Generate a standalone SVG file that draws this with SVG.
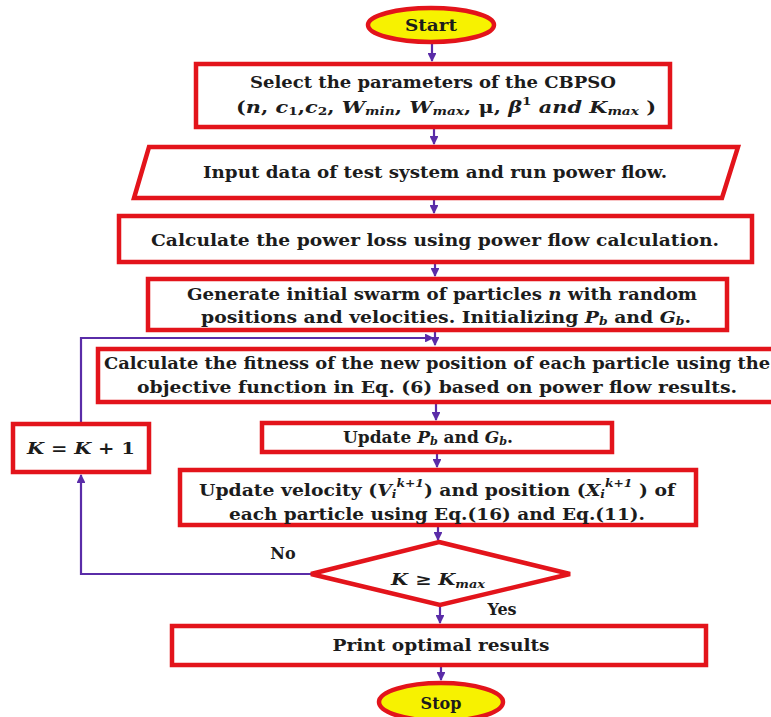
<svg xmlns="http://www.w3.org/2000/svg" width="771" height="717" viewBox="0 0 771 717">
<defs>
<marker id="ah" viewBox="0 0 10 10" refX="9" refY="5" markerWidth="4" markerHeight="4" orient="auto-start-reverse">
<path d="M0,0 L10,5 L0,10 z" fill="#5a2ca8"/>
</marker>
</defs>
<style>
.box{fill:#fff;stroke:#e3141b;stroke-width:4.5}
.term{fill:#f7f200;stroke:#e3141b;stroke-width:4.5}
.t{font-family:"DejaVu Serif","Liberation Serif",serif;font-weight:bold;font-size:16px;fill:#1c1c1c;text-anchor:middle;dominant-baseline:central}
.m{font-style:italic}
.sub{font-size:10.5px}
.c{fill:none;stroke:#5a2ca8;stroke-width:2.2;marker-end:url(#ah)}
</style>
<rect width="771" height="717" fill="#fff"/>
<g id="connectors">
<line class="c" x1="432" y1="44" x2="432" y2="61"/>
<line class="c" x1="434" y1="128" x2="434" y2="144"/>
<line class="c" x1="434" y1="199" x2="434" y2="213"/>
<line class="c" x1="435" y1="263" x2="435" y2="276"/>
<line class="c" x1="435" y1="331" x2="435" y2="345"/>
<line class="c" x1="436" y1="404" x2="436" y2="420"/>
<line class="c" x1="437" y1="453" x2="437" y2="467"/>
<line class="c" x1="438" y1="527" x2="438" y2="540"/>
<line class="c" x1="440" y1="606" x2="440" y2="623"/>
<line class="c" x1="441" y1="666" x2="441" y2="680"/>
<polyline class="c" points="311,574 81,574 81,475"/>
<polyline class="c" points="81,422 81,338 433,338"/>
</g>
<g id="start">
<ellipse class="term" cx="431" cy="25" rx="63" ry="17"/>
<text class="t" x="431" y="25" textLength="52" lengthAdjust="spacingAndGlyphs">Start</text>
</g>
<g id="select">
<rect class="box" x="196" y="64" width="474" height="63"/>
<text class="t" x="433" y="82" textLength="366" lengthAdjust="spacingAndGlyphs">Select the parameters of the CBPSO</text>
<text class="t" x="446" y="107" textLength="420" lengthAdjust="spacingAndGlyphs">(<tspan class="m">n</tspan>, <tspan class="m">c</tspan><tspan class="sub" dy="4">1</tspan><tspan dy="-4">,</tspan><tspan class="m">c</tspan><tspan class="sub" dy="4">2</tspan><tspan dy="-4">, </tspan><tspan class="m">W</tspan><tspan class="sub m" dy="4">min</tspan><tspan dy="-4">, </tspan><tspan class="m">W</tspan><tspan class="sub m" dy="4">max</tspan><tspan dy="-4">, μ, </tspan><tspan class="m">β</tspan><tspan class="sub" dy="-6">1</tspan><tspan class="m" dy="6"> and </tspan><tspan class="m">K</tspan><tspan class="sub m" dy="4">max</tspan><tspan dy="-4"> )</tspan></text>
</g>
<g id="input">
<polygon class="box" points="149,147 738,147 722,198 134,198"/>
<text class="t" x="435" y="172" textLength="464" lengthAdjust="spacingAndGlyphs">Input data of test system and run power flow.</text>
</g>
<g id="loss">
<rect class="box" x="119" y="216" width="633" height="46"/>
<text class="t" x="435" y="240" textLength="568" lengthAdjust="spacingAndGlyphs">Calculate the power loss using power flow calculation.</text>
</g>
<g id="generate">
<rect class="box" x="148" y="279" width="579" height="51"/>
<text class="t" x="442" y="294" textLength="510" lengthAdjust="spacingAndGlyphs">Generate initial swarm of particles <tspan class="m">n</tspan> with random</text>
<text class="t" x="446" y="317" textLength="490" lengthAdjust="spacingAndGlyphs">positions and velocities. Initializing <tspan class="m">P</tspan><tspan class="sub m" dy="4">b</tspan><tspan dy="-4"> and </tspan><tspan class="m">G</tspan><tspan class="sub m" dy="4">b</tspan><tspan dy="-4">.</tspan></text>
</g>
<g id="fitness">
<rect class="box" x="98" y="349" width="676" height="53"/>
<text class="t" x="437" y="363" textLength="666" lengthAdjust="spacingAndGlyphs">Calculate the fitness of the new position of each particle using the</text>
<text class="t" x="437" y="387" textLength="600" lengthAdjust="spacingAndGlyphs">objective function in Eq. (6) based on power flow results.</text>
</g>
<g id="update-pb">
<rect class="box" x="262" y="423" width="350" height="29"/>
<text class="t" x="428" y="437" textLength="170" lengthAdjust="spacingAndGlyphs">Update <tspan class="m">P</tspan><tspan class="sub m" dy="4">b</tspan><tspan dy="-4"> and </tspan><tspan class="m">G</tspan><tspan class="sub m" dy="4">b</tspan><tspan dy="-4">.</tspan></text>
</g>
<g id="k-inc">
<rect class="box" x="13" y="424" width="136" height="48"/>
<text class="t" x="81" y="448" textLength="108" lengthAdjust="spacingAndGlyphs"><tspan class="m">K</tspan> = <tspan class="m">K</tspan> + 1</text>
</g>
<g id="update-vel">
<rect class="box" x="180" y="470" width="516" height="55"/>
<text class="t" x="437" y="490" textLength="476" lengthAdjust="spacingAndGlyphs">Update velocity (<tspan class="m">V</tspan><tspan class="sub m" dy="4">i</tspan><tspan class="sub m" dy="-11">k+1</tspan><tspan dy="7">) and position (</tspan><tspan class="m">X</tspan><tspan class="sub m" dy="4">i</tspan><tspan class="sub m" dy="-11">k+1</tspan><tspan dy="7"> ) of</tspan></text>
<text class="t" x="437" y="514" textLength="416" lengthAdjust="spacingAndGlyphs">each particle using Eq.(16) and Eq.(11).</text>
</g>
<g id="decision">
<polygon class="box" points="439,542 570,574 440,605 311,574"/>
<text class="t" x="438" y="579" textLength="94" lengthAdjust="spacingAndGlyphs"><tspan class="m">K</tspan> ≥ <tspan class="m">K</tspan><tspan class="sub m" dy="5">max</tspan></text>
<text class="t" x="283" y="553">No</text>
<text class="t" x="502" y="609">Yes</text>
</g>
<g id="print">
<rect class="box" x="172" y="626" width="534" height="39"/>
<text class="t" x="441" y="645" textLength="217" lengthAdjust="spacingAndGlyphs">Print optimal results</text>
</g>
<g id="stop">
<ellipse class="term" cx="441" cy="702" rx="62" ry="19"/>
<text class="t" x="441" y="703">Stop</text>
</g>
</svg>
